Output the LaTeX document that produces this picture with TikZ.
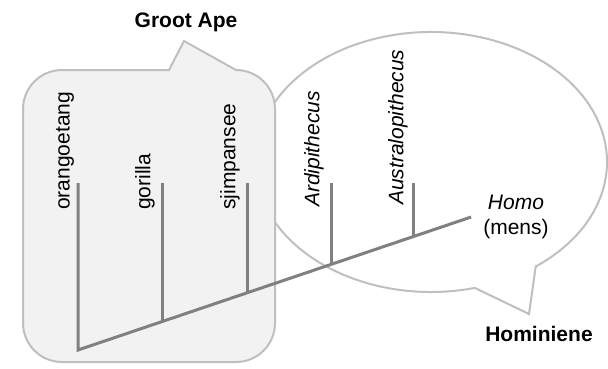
\documentclass[tikz,border=0pt]{standalone}
\usepackage{fontspec}
\setmainfont{Liberation Sans}

\begin{document}
\begin{tikzpicture}[x=1pt,y=-1pt,
	font=\fontsize{21}{25}\selectfont,
	bubble/.style={draw=black!25,line width=2pt},
	branch/.style={draw=black!50,line width=3pt},
	taxon/.style={rotate=90,anchor=west,inner sep=0pt},
	group/.style={font=\fontsize{21}{25}\selectfont\bfseries,inner sep=0pt}]
	\useasboundingbox (0,0) rectangle (608,368);
	
	% speech bubbles
	\draw[bubble,fill=white] (474.8,287.9) arc[start angle=-75.6,end angle=-413.5,x radius=176pt,y radius=130pt] -- (529,314) -- cycle;
	\draw[bubble,fill=black!5] (184,41) -- (236,70) arc[start angle=90,end angle=0,radius=39pt]
		-- (275,323) arc[start angle=0,end angle=-90,radius=39pt]
		-- (62,362) arc[start angle=-90,end angle=-180,radius=39pt]
		-- (23,109) arc[start angle=180,end angle=90,radius=39pt] -- (169,70) -- cycle;
	
	\node[group] (ape) at (186,22) {Groot Ape};
	\node[group] (hominiene) at (539,334) {Hominiene};
	
	% tree
	\coordinate (root) at (78,350);
	\coordinate (top) at (0,183);
	\node[align=center,inner xsep=12pt,inner ysep=0pt] (homo) at (516,217) {\textit{Homo}\\(mens)};
	
	\draw[branch] (root |- top) -- (root) -- (homo.west);
	\foreach \p [count=\i] in {0.216,0.432,0.646,0.854}
	{
		\path (root) -- (homo.west) coordinate[pos=\p] (b\i);
		\draw[branch] (b\i) -- (b\i |- top);
	}
	
	\node[taxon] (orang) at (65,210) {orangoetang};
	\node[taxon] (gor) at (145,210) {gorilla};
	\node[taxon] (sjimp) at (230,210) {sjimpansee};
	\node[taxon] (ardi) at (314,207) {\textit{Ardipithecus}};
	\node[taxon] (aus) at (398,205) {\textit{Australopithecus}};
\end{tikzpicture}
\end{document}
